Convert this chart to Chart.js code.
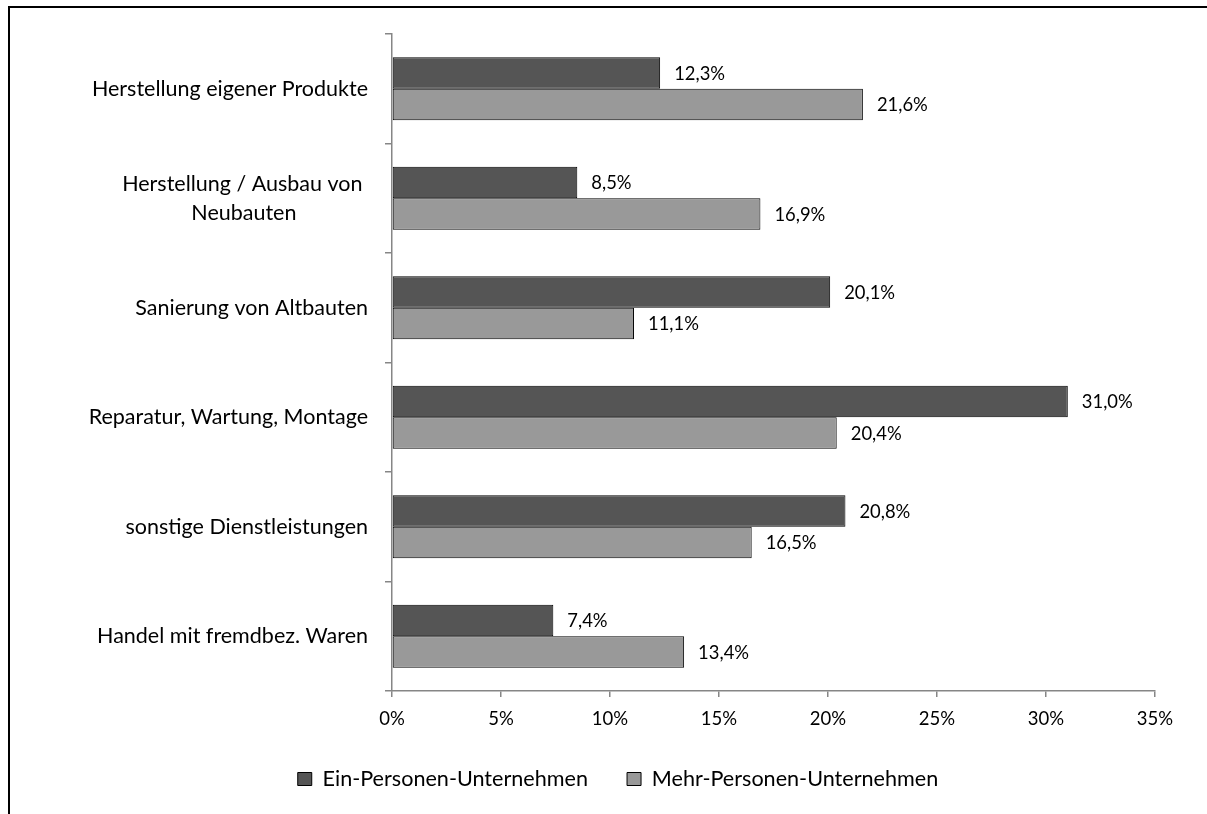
<!DOCTYPE html>
<html>
<head>
<meta charset="utf-8">
<script src="https://cdn.jsdelivr.net/npm/chart.js@4.4.1/dist/chart.umd.min.js"></script>
<style>
  html, body { margin: 0; padding: 0; background: #fff; overflow: hidden; }
  #frame { position: absolute; left: 8px; top: 6px; width: 1400px; height: 1000px; border-left: 2px solid #000; border-top: 2px solid #000; }
  #wrap { position: absolute; left: 0; top: 0; width: 1207px; height: 814px; }
</style>
</head>
<body>
<div id="frame"></div>
<div id="wrap"><canvas id="c" width="1207" height="814"></canvas></div>
<script>
const NB = "\u00A0";
const categories = [
  "Herstellung eigener Produkte",
  ["Herstellung / Ausbau von" + NB, "Neubauten" + NB.repeat(13)],
  "Sanierung von Altbauten",
  "Reparatur, Wartung, Montage",
  "sonstige Dienstleistungen",
  "Handel mit fremdbez. Waren"
];
const seriesNames = ["Ein-Personen-Unternehmen", "Mehr-Personen-Unternehmen"];
const einPersonen = [12.3, 8.5, 20.1, 31.0, 20.8, 7.4];
const mehrPersonen = [21.6, 16.9, 11.1, 20.4, 16.5, 13.4];
const xTicks = [0, 5, 10, 15, 20, 25, 30, 35];

const FONT = "Lato, 'Open Sans', sans-serif";
const AXIS_GRAY = '#868686';

const dataLabels = {
  id: 'dataLabels',
  afterDatasetsDraw(chart) {
    const ctx = chart.ctx;
    ctx.save();
    ctx.font = "18.4px " + FONT;
    ctx.fillStyle = '#000';
    ctx.textAlign = 'left';
    ctx.textBaseline = 'middle';
    chart.data.datasets.forEach((ds, di) => {
      chart.getDatasetMeta(di).data.forEach((bar, i) => {
        const v = ds.data[i];
        ctx.fillText(v.toFixed(1).replace('.', ',') + '%', bar.x + 14, bar.y + 1);
      });
    });
    ctx.restore();
  }
};

new Chart(document.getElementById('c'), {
  type: 'bar',
  data: {
    labels: categories,
    datasets: [
      { label: seriesNames[0], data: einPersonen, backgroundColor: '#555555', borderColor: '#000', borderWidth: 1, borderSkipped: false, categoryPercentage: 0.575, barPercentage: 1.0 },
      { label: seriesNames[1], data: mehrPersonen, backgroundColor: '#999999', borderColor: '#000', borderWidth: 1, borderSkipped: false, categoryPercentage: 0.575, barPercentage: 1.0 }
    ]
  },
  options: {
    indexAxis: 'y',
    responsive: false,
    animation: false,
    layout: { padding: { left: 81, right: 52, top: 34, bottom: 14.2 } },
    scales: {
      x: {
        type: 'linear',
        min: 0, max: 35,
        afterBuildTicks(scale) { scale.ticks = xTicks.map(v => ({ value: v })); },
        afterFit(scale) { scale.height = 38.2; },
        border: { display: true, color: AXIS_GRAY, width: 1.5 },
        grid: { drawOnChartArea: false, drawTicks: true, tickLength: 6, color: AXIS_GRAY, lineWidth: 1.5 },
        ticks: { color: '#000', font: { family: FONT, size: 18.5 }, padding: 11, callback: v => v + '%', maxRotation: 0 }
      },
      y: {
        afterFit(scale) { scale.width = 311; },
        border: { display: true, color: AXIS_GRAY, width: 1.5 },
        grid: { drawOnChartArea: false, drawTicks: true, tickLength: 7, color: AXIS_GRAY, lineWidth: 1.5, offset: true },
        ticks: { color: '#000', font: { family: FONT, size: 21.5, lineHeight: 1.35 }, padding: 17, crossAlign: 'near' }
      }
    },
    plugins: {
      legend: {
        position: 'bottom',
        align: 'center',
        labels: { color: '#000', font: { family: FONT, size: 21.6 }, boxWidth: 14, boxHeight: 13, padding: 39 }
      },
      tooltip: { enabled: false }
    }
  },
  plugins: [dataLabels]
});
</script>
</body>
</html>
